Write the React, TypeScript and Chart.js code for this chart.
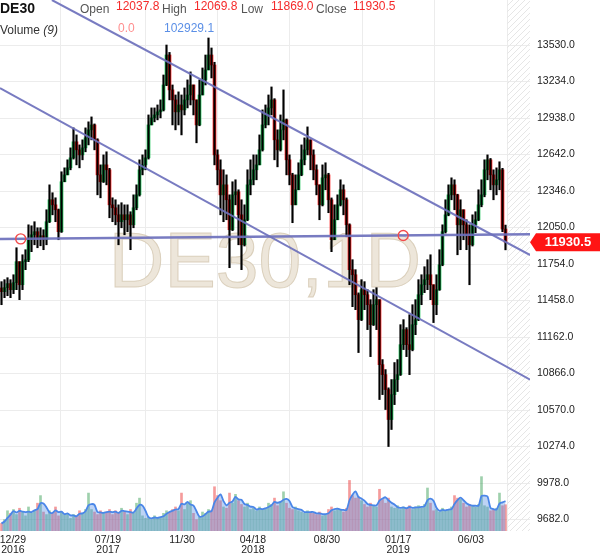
import React, { useEffect, useRef } from "react";
import { Chart, registerables } from "chart.js";

Chart.register(...registerables);

// ---------- data ----------
const symbol = "DE30";
const watermark = "DE30,1D";
const firstOpen = 11560;

const closes = [
  11530, 11562, 11595, 11546, 11603, 11773, 11586, 11773, 11789, 11951,
  11991, 12016, 11967, 11983, 11951, 12097, 12275, 12234, 12194, 12016,
  12421, 12477, 12534, 12615, 12745, 12680, 12639, 12696, 12777, 12842,
  12882, 12761, 12477, 12421, 12558, 12518, 12234, 12210, 12153, 12097,
  12153, 12113, 12153, 12072, 12210, 12315, 12518, 12558, 12615, 12882,
  12939, 12963, 12988, 13004, 13206, 13449, 13166, 13085, 12988, 13044,
  13004, 13085, 13125, 13206, 13085, 12882, 13125, 13247, 13328, 13449,
  13368, 12639, 12518, 12315, 12396, 12275, 12032, 12315, 12340, 12153,
  11910, 12113, 12396, 12437, 12518, 12558, 12680, 12882, 12963, 13020,
  13085, 12761, 12680, 12842, 12923, 12599, 12477, 12234, 12356, 12477,
  12599, 12680, 12761, 12639, 12518, 12396, 12234, 12453, 12477, 12275,
  11951, 12113, 12234, 12356, 12275, 12072, 11708, 11667, 11505, 11303,
  11546, 11505, 11424, 11262, 11424, 11465, 10938, 10857, 10736, 10493,
  10695, 10817, 10857, 11100, 11222, 11100, 11060, 11262, 11303, 11505,
  11586, 11627, 11667, 11586, 11424, 11546, 11748, 12016, 12153, 12315,
  12396, 12315, 12072, 12194, 12072, 11991, 11910, 12072, 12113, 12234,
  12315, 12518, 12599, 12477, 12396, 12437, 12518, 12037.8, 11930.5,
];

const highs = [
  11611, 11627, 11643, 11627, 11667, 11886, 11773, 11829, 11870, 12072,
  12064, 12097, 12048, 12048, 12032, 12194, 12396, 12332, 12291, 12200,
  12502, 12534, 12599, 12696, 12858, 12801, 12720, 12761, 12858, 12907,
  12947, 12890, 12770, 12558, 12639, 12664, 12530, 12291, 12275, 12234,
  12251, 12234, 12234, 12178, 12315, 12396, 12599, 12639, 12680, 12963,
  13020, 13020, 13044, 13085, 13287, 13530, 13470, 13206, 13125, 13150,
  13125, 13182, 13247, 13312, 13206, 13085, 13247, 13344, 13449, 13587,
  13506, 13390, 12680, 12599, 12518, 12477, 12315, 12421, 12437, 12356,
  12275, 12234, 12518, 12599, 12639, 12639, 12801, 13004, 13044, 13125,
  13190, 13095, 12842, 12963, 13166, 12930, 12639, 12490, 12477, 12575,
  12720, 12777, 12866, 12761, 12680, 12558, 12396, 12558, 12575, 12490,
  12290, 12234, 12315, 12437, 12396, 12290, 12080, 11789, 11708, 11520,
  11627, 11611, 11546, 11465, 11546, 11562, 11465, 10979, 10898, 10750,
  10817, 10955, 10979, 11262, 11303, 11238, 11343, 11424, 11465, 11627,
  11667, 11732, 11789, 11829, 11586, 11667, 11870, 12072, 12275, 12396,
  12453, 12437, 12320, 12275, 12194, 12113, 12072, 12153, 12178, 12356,
  12437, 12599, 12639, 12610, 12518, 12534, 12583, 12530, 12069.8,
];

const lows = [
  11424, 11481, 11497, 11481, 11514, 11546, 11465, 11546, 11708, 11773,
  11854, 11910, 11886, 11902, 11870, 11910, 12090, 12153, 12097, 11951,
  12010, 12421, 12477, 12518, 12605, 12558, 12534, 12599, 12664, 12720,
  12761, 12680, 12315, 12291, 12415, 12396, 12129, 12097, 12072, 11910,
  12048, 11991, 12016, 11870, 12048, 12194, 12305, 12477, 12518, 12605,
  12882, 12907, 12923, 12939, 12995, 13200, 13085, 12882, 12842, 12882,
  12801, 12963, 13020, 13044, 12963, 12737, 12875, 13125, 13206, 13328,
  13263, 12558, 12396, 12153, 12097, 12113, 11724, 12025, 12234, 11910,
  11708, 11900, 12105, 12315, 12396, 12437, 12558, 12670, 12858, 12882,
  12963, 12599, 12542, 12670, 12761, 12477, 12396, 12089, 12234, 12356,
  12470, 12558, 12639, 12518, 12437, 12315, 12113, 12225, 12356, 12170,
  11854, 11951, 12113, 12225, 12153, 11975, 11586, 11408, 11384, 11036,
  11295, 11384, 11222, 11003, 11255, 11222, 10655, 10695, 10574, 10274,
  10412, 10614, 10720, 10850, 11060, 11003, 10857, 11050, 11181, 11295,
  11424, 11522, 11546, 11465, 11279, 11343, 11540, 11740, 12005, 12145,
  12275, 12194, 11829, 11870, 11951, 11870, 11586, 11900, 12008, 12105,
  12218, 12299, 12437, 12356, 12275, 12315, 12356, 12016, 11869,
];

// volume in thousands
const volumes = [
  30, 45, 80,
  70, 85, 65, 90, 75, 60, 95, 70,
  80, 110, 140, 75,
  65, 80, 70, 95, 60, 75, 65, 70,
  50, 65, 60,
  80, 70, 85,
  150, 85, 75,
  65, 80, 70,
  75, 85, 65, 80, 70, 90, 75, 65, 85, 70,
  110, 130,
  60, 50, 55, 45, 60, 50, 55,
  70, 80, 75,
  85, 95, 80, 150, 85,
  110, 120,
  70, 45, 55,
  75, 70, 85, 80,
  175, 140,
  120, 95,
  90, 150,
  110, 145, 120, 105, 95, 110,
  85, 90, 80, 95, 85, 90,
  110, 105, 130, 100, 115, 155, 110,
  90, 85, 95, 80, 75,
  70, 80, 75, 70, 65, 75,
  60, 65,
  85, 95, 80, 90, 85, 75,
  90, 200,
  140, 130, 135, 120,
  105, 95, 110, 100, 95,
  165, 125, 110, 130,
  95, 90, 100, 85, 95, 90, 100, 85, 95, 100, 90,
  105, 170, 110,
  80, 85, 75, 90, 80,
  85, 95,
  140, 130, 125,
  110, 95, 105, 100, 95, 105,
  215, 100, 95,
  80, 85, 90,
  150, 100, 104,
];

const volumeMAText = "102929.1";
const volumeLowText = "0.0";

const priceTicks = [9682, 9978, 10274, 10570, 10866, 11162, 11458, 11754, 12050, 12346, 12642, 12938, 13234, 13530];
const dateTickPos = [3.8, 35.5, 60.2, 83.8, 108.5, 132.2, 156.5];
const dateTickLabels = [["12/29", "2016"], ["07/19", "2017"], ["11/30"], ["04/18", "2018"], ["08/30"], ["01/17", "2019"], ["06/03"]];

const upperTrend = [{ x: 16.8, y: 13895 }, { x: 176.2, y: 11827 }];
const lowerTrend = [{ x: -0.5, y: 13181 }, { x: 176.2, y: 10817 }];
const levelLine = [{ x: -0.5, y: 11957 }, { x: 176.2, y: 11996 }];
const levelMarks = [{ x: 6.4, y: 11958 }, { x: 133.9, y: 11985 }];

const Y_MIN = 9589;
const Y_MAX = 13895;
const X_MIN = -0.5;
const X_MAX = 176.17;
const VOL_MAX = 2100;

// ---------- derived ----------
const opens = closes.map((c, i) => (i === 0 ? firstOpen : closes[i - 1]));
const last = closes.length - 1;
const isUp = closes.map((c, i) => c >= opens[i]);
const volMA = volumes.map((v, i) => {
  const s = volumes.slice(Math.max(0, i - 2), i + 1);
  return s.reduce((a, b) => a + b, 0) / s.length;
});

const FONT = "'Liberation Sans', Arial, Helvetica, sans-serif";

const zeroPad = (s: any) => {
  s.paddingLeft = 0;
  s.paddingRight = 0;
  s.paddingTop = 0;
  s.paddingBottom = 0;
};

const backdropPlugin = {
  id: "backdrop",
  beforeDatasetsDraw(chart: any) {
    const { ctx, chartArea: a, scales } = chart;
    const xs = scales.x;
    const hx = xs.getPixelForValue(last + 0.5);
    const h = a.bottom - a.top;
    ctx.save();
    ctx.beginPath();
    ctx.rect(hx, a.top, a.right - hx, h);
    ctx.clip();
    ctx.strokeStyle = "#e6e6e6";
    ctx.lineWidth = 1;
    ctx.beginPath();
    for (let k = hx - h; k < a.right + 6; k += 6) {
      ctx.moveTo(k, a.bottom);
      ctx.lineTo(k + h, a.top);
    }
    ctx.stroke();
    ctx.restore();

    ctx.save();
    ctx.font = `77px ${FONT}`;
    ctx.textAlign = "center";
    ctx.textBaseline = "alphabetic";
    const cx = (a.left + a.right) / 2;
    const by = a.top + h * 0.5405;
    ctx.fillStyle = "rgba(236,229,216,0.95)";
    ctx.fillText(watermark, cx, by);
    ctx.strokeStyle = "rgba(212,200,178,0.8)";
    ctx.lineWidth = 1;
    ctx.strokeText(watermark, cx, by);
    ctx.restore();
  },
};

const overlayPlugin = {
  id: "overlay",
  afterDraw(chart: any) {
    const { ctx, chartArea: a, scales } = chart;
    // price label
    const y = scales.y.getPixelForValue(closes[last]);
    ctx.save();
    ctx.fillStyle = "#ff1414";
    ctx.beginPath();
    ctx.moveTo(a.right, y);
    ctx.lineTo(a.right + 6, y - 9);
    ctx.lineTo(chart.width, y - 9);
    ctx.lineTo(chart.width, y + 9);
    ctx.lineTo(a.right + 6, y + 9);
    ctx.closePath();
    ctx.fill();
    ctx.fillStyle = "#ffffff";
    ctx.font = `bold 13px ${FONT}`;
    ctx.textAlign = "center";
    ctx.textBaseline = "middle";
    ctx.fillText(closes[last].toFixed(1), (a.right + 6 + chart.width) / 2, y + 0.5);
    ctx.restore();

    // header
    ctx.save();
    ctx.textAlign = "left";
    ctx.textBaseline = "alphabetic";
    ctx.font = `bold 14px ${FONT}`;
    ctx.fillStyle = "#111";
    ctx.fillText(symbol, 0, 13);
    const labels = ["Open", "High", "Low", "Close"];
    const values = [opens[last], highs[last], lows[last], closes[last]];
    const lx = [80, 162, 241, 316];
    const vx = [116, 194, 271, 353];
    ctx.font = `12px ${FONT}`;
    labels.forEach((t, i) => {
      ctx.fillStyle = "#555";
      ctx.fillText(t, lx[i], 13);
      ctx.fillStyle = "#f52a2a";
      ctx.fillText(values[i].toFixed(1), vx[i], 10);
    });
    ctx.fillStyle = "#333";
    ctx.fillText("Volume ", 0, 34);
    const w = ctx.measureText("Volume ").width;
    ctx.font = `italic 12px ${FONT}`;
    ctx.fillText("(9)", w, 34);
    ctx.font = `12px ${FONT}`;
    ctx.fillStyle = "#ff8f8f";
    ctx.fillText(volumeLowText, 118, 32);
    ctx.fillStyle = "#5b8fe6";
    ctx.fillText(volumeMAText, 164, 32);
    ctx.restore();
  },
};

export default function App() {
  const ref = useRef<HTMLCanvasElement | null>(null);

  useEffect(() => {
    document.body.style.margin = "0";
    if (!ref.current) return;
    Chart.defaults.font.family = FONT;

    const idx = closes.map((_, i) => i);
    const bodyColors = isUp.map((u) => (u ? "#18c455" : "#ff1a1a"));
    const volColors = isUp.map((u) => (u ? "rgba(40,150,70,0.45)" : "rgba(235,55,55,0.5)"));
    const trendStyle = {
      type: "line" as const,
      borderColor: "rgba(108,112,188,0.92)",
      borderWidth: 2,
      pointRadius: 0,
      tension: 0,
      fill: false,
    };

    const chart = new Chart(ref.current, {
      type: "bar",
      data: {
        datasets: [
          {
            type: "bar",
            label: "Volume",
            yAxisID: "yv",
            data: idx.map((i) => ({ x: i, y: volumes[i] })),
            backgroundColor: volColors,
            barThickness: 2,
            grouped: false,
            order: 7,
          } as any,
          {
            type: "line",
            label: "Volume MA",
            yAxisID: "yv",
            data: idx.map((i) => ({ x: i, y: volMA[i] })),
            borderColor: "#4a86e8",
            borderWidth: 1.8,
            backgroundColor: "rgba(90,145,230,0.4)",
            fill: "origin",
            pointRadius: 0,
            tension: 0.3,
            order: 6,
          } as any,
          {
            type: "bar",
            label: "Body",
            yAxisID: "y",
            data: idx.map((i) => ({ x: i, y: [opens[i], closes[i]] })),
            backgroundColor: bodyColors,
            barThickness: 3,
            grouped: false,
            order: 5,
          } as any,
          {
            type: "bar",
            label: "Wick",
            yAxisID: "y",
            data: idx.map((i) => ({
              x: i,
              y: [Math.min(lows[i], opens[i], closes[i]), Math.max(highs[i], opens[i], closes[i])],
            })),
            backgroundColor: "#000000",
            barThickness: 1.5,
            grouped: false,
            order: 4,
          } as any,
          { ...trendStyle, label: "Upper", yAxisID: "y", data: upperTrend, order: 3 } as any,
          { ...trendStyle, label: "Lower", yAxisID: "y", data: lowerTrend, order: 3 } as any,
          { ...trendStyle, label: "Level", yAxisID: "y", data: levelLine, borderWidth: 2.5, order: 3 } as any,
          {
            type: "line",
            label: "Marks",
            yAxisID: "y",
            data: levelMarks,
            showLine: false,
            pointRadius: 5,
            pointBorderWidth: 1.4,
            pointBorderColor: "#f24b4b",
            pointBackgroundColor: "rgba(255,255,255,0)",
            order: 1,
          } as any,
        ],
      },
      options: {
        responsive: false,
        animation: false,
        devicePixelRatio: 1,
        events: [],
        layout: { padding: 0, autoPadding: false },
        plugins: { legend: { display: false }, tooltip: { enabled: false } },
        scales: {
          x: {
            type: "linear",
            min: X_MIN,
            max: X_MAX,
            offset: false,
            position: "bottom",
            border: { display: false },
            grid: {
              color: (c: any) => (c.index === 0 ? "rgba(0,0,0,0)" : "#ececec"),
              drawTicks: false,
            },
            afterBuildTicks: (s: any) => {
              s.ticks = dateTickPos.map((v) => ({ value: v }));
            },
            afterFit: (s: any) => {
              s.height = 27;
              zeroPad(s);
            },
            ticks: {
              autoSkip: false,
              maxRotation: 0,
              padding: 4,
              color: "#222",
              font: { size: 10.5, lineHeight: 0.95 },
              callback: (_v: any, i: number) => dateTickLabels[i],
            },
          },
          y: {
            type: "linear",
            position: "right",
            min: Y_MIN,
            max: Y_MAX,
            border: { display: false },
            grid: { color: "#ececec", drawTicks: false },
            afterBuildTicks: (s: any) => {
              s.ticks = priceTicks.map((v) => ({ value: v }));
            },
            afterFit: (s: any) => {
              s.width = 70;
              zeroPad(s);
            },
            ticks: {
              padding: 7,
              color: "#222",
              font: { size: 10.5 },
              callback: (v: any) => Number(v).toFixed(1),
            },
          },
          yv: {
            type: "linear",
            display: false,
            position: "right",
            min: 0,
            max: VOL_MAX,
            ticks: { display: false },
            grid: { display: false },
            afterFit: (s: any) => {
              s.width = 0;
              zeroPad(s);
            },
          },
        },
      } as any,
      plugins: [backdropPlugin, overlayPlugin],
    });

    return () => chart.destroy();
  }, []);

  return (
    <div style={{ width: 600, height: 558, position: "relative" }}>
      <canvas ref={ref} width={600} height={558} style={{ display: "block" }} />
    </div>
  );
}
